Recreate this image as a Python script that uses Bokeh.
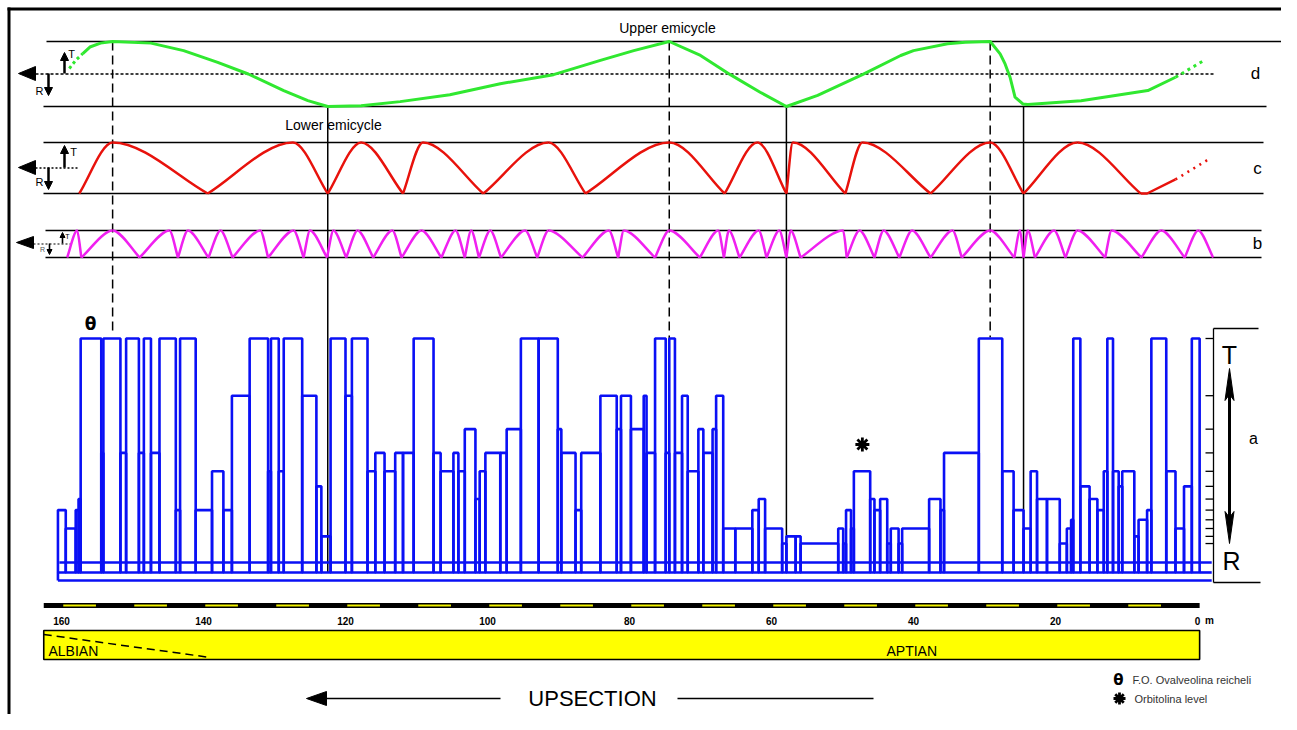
from bokeh.plotting import figure
from bokeh.models import Range1d, LogScale
from bokeh.core.properties import value
from bokeh.embed import file_html
from bokeh.resources import INLINE

# ---------------------------------------------------------------- data
# section scale (metres, 0 m at the right / top of section)
SCALE_TICKS = [160, 140, 120, 100, 80, 60, 40, 20, 0]
SCALE_TICK_LABELS = ["160", "140", "120", "100", "80", "60", "40", "20", "0"]
SCALE_YELLOW = [160, 150, 140, 130, 120, 110, 100, 90, 80, 70, 60, 50, 40, 30, 20, 10]
STAGES = ["ALBIAN", "APTIAN"]

# d : long-term cycle (green), level +1 = T, -1 = R
D_DOT_START_X = [158.9, 158.0, 157.0]
D_DOT_START_Y = [0.17, 0.42, 0.63]
D_X = [157.0, 156.0, 154.5, 152.8, 147.4, 142.8, 138.0, 133.7, 128.7, 125.3,
       122.5, 117.8, 112.3, 105.3, 98.2, 90.7, 84.1, 79.4, 74.4, 70.0,
       65.8, 61.6, 57.9, 53.5, 47.2, 41.8, 40.0, 35.2, 32.7, 29.2,
       27.8, 27.1, 26.4, 25.7, 24.6, 23.9, 16.4, 7.0, 3.1]
D_Y = [0.63, 0.83, 0.95, 1.0, 0.95, 0.72, 0.36, 0.0, -0.51, -0.82,
       -1.0, -0.98, -0.85, -0.64, -0.30, -0.02, 0.42, 0.72, 1.0, 0.57,
       -0.02, -0.56, -1.0, -0.66, -0.02, 0.57, 0.72, 0.93, 0.98, 1.0,
       0.62, 0.31, -0.10, -0.71, -0.92, -0.94, -0.82, -0.51, -0.10]
D_DOT_END_X = [3.1, 1.0, -1.1]
D_DOT_END_Y = [-0.10, 0.17, 0.44]

# c : medium cycles (red) turning points
C_X = [157.5, 152.8, 139.4, 127.4, 122.5, 117.8, 111.9, 109.1, 100.6, 91.4,
       86.2, 74.4, 66.6, 62.0, 57.9, 57.0, 49.6, 47.2, 37.6, 29.2,
       24.5, 16.9, 8.0]
C_Y = [-1, 1, -1, 1, -1, 1, -1, 1, -1, 1,
       -1, 1, -1, 1, -1, 1, -1, 1, -1, 1,
       -1, 1, -1]
C_TAIL_X = [8.0, 7.1, 3.1]
C_TAIL_Y = [-1.0, -1.0, -0.45]
C_DOT_X = [3.1, -1.5]
C_DOT_Y = [-0.45, 0.33]

# b : short cycles (magenta) turning points
B_X = [159.2, 157.8, 157.2, 152.8, 149.0, 144.8, 143.6, 142.2, 139.3, 137.6,
       135.9, 132.0, 130.9, 127.3, 125.9, 125.0, 122.6, 121.7, 119.9, 118.3,
       116.1, 113.4, 112.1, 109.3, 106.5, 104.5, 103.2, 102.3, 101.2, 99.6,
       98.1, 94.7, 93.0, 91.4, 86.6, 82.9, 81.6, 80.8, 76.4, 74.4,
       70.1, 67.5, 66.7, 66.0, 64.5, 61.8, 60.7, 58.9, 57.9, 57.3,
       55.9, 49.9, 49.4, 47.6, 45.5, 44.2, 42.0, 40.2, 37.6, 34.5,
       33.2, 29.2, 25.8, 25.0, 24.5, 23.9, 22.9, 20.2, 18.6, 16.9,
       13.0, 12.1, 7.9, 5.1, 1.8, -0.1, -2.2]
B_Y = [-1, 1, -1, 1, -1, 1, -1, 1, -1, 1,
       -1, 1, -1, 1, -1, 1, -1, 1, -1, 1,
       -1, 1, -1, 1, -1, 1, -1, 1, -1, 1,
       -1, 1, -1, 1, -1, 1, -1, 1, -1, 1,
       -1, 1, -1, 1, -1, 1, -1, 1, -1, 1,
       -1, 1, -1, 1, -1, 1, -1, 1, -1, 1,
       -1, 1, -1, 1, -1, 1, -1, 1, -1, 1,
       -1, 1, -1, 1, -1, 1, -1]

# a : elementary cycles (blue), bed boundaries (m) and facies level (1 = T ... 12 = R)
A_EDGES = [160.5, 159.4, 158.0, 157.6, 157.3, 154.4, 154.1, 151.7, 150.9, 149.1,
           148.4, 147.4, 146.2, 143.9, 143.3, 141.1, 138.8, 137.2, 136.0, 133.5,
           130.9, 130.5, 129.4, 128.7, 126.1, 124.1, 123.4, 122.1, 120.0, 119.1,
           116.9, 115.8, 114.5, 113.0, 111.9, 110.4, 107.6, 106.6, 104.8, 104.1,
           103.2, 101.7, 101.1, 100.3, 98.2, 97.3, 95.3, 92.8, 90.1, 89.6,
           87.6, 86.8, 84.1, 81.8, 81.2, 79.8, 78.0, 77.6, 76.4, 74.9,
           74.4, 73.6, 72.6, 71.8, 70.3, 69.6, 68.3, 67.8, 66.8, 65.1,
           62.7, 61.8, 60.9, 58.5, 57.9, 56.6, 55.9, 50.6, 49.9, 49.5,
           48.8, 48.4, 46.1, 45.5, 44.7, 43.7, 43.2, 42.1, 41.6, 37.8,
           36.2, 35.7, 30.8, 27.5, 25.9, 24.5, 23.5, 22.6, 21.2, 19.4,
           18.4, 17.8, 17.5, 16.5, 15.2, 14.1, 13.2, 12.7, 11.9, 11.1,
           10.6, 8.9, 8.3, 7.1, 6.5, 4.4, 3.1, 1.9, 0.8, -0.3]
A_LEVELS = [8, 10, 8, 7, 1, 4, 1, 4, 1, 4,
            1, 4, 1, 8, 1, 8, 5, 8, 2, 1,
            5, 1, 5, 1, 2, 6, 11, 1, 2, 1,
            5, 4, 5, 4, 4, 1, 4, 5, 4, 5,
            3, 7, 5, 4, 4, 3, 1, 1, 3, 4,
            8, 4, 2, 3, 2, 3, 2, 4, 1, 4,
            1, 4, 2, 5, 3, 4, 3, 2, 10, 10,
            8, 7, 10, 12, 11, 11, 12, 10, 12, 8,
            10, 5, 7, 8, 7, 12, 10, 12, 10, 7,
            8, 4, 1, 5, 8, 10, 5, 7, 7, 12,
            10, 9, 1, 6, 7, 8, 5, 1, 5, 6,
            5, 11, 9, 8, 1, 5, 10, 6, 1]
A_TICKS = [1, 2, 3, 4, 5, 6, 7, 8, 9, 10, 11, 12]
A_BASE = 17.04
A_GUIDES = [15.1, 18.78]

# correlation lines between cycle orders (m)
CORR_DASH_X = [152.8, 74.4, 29.2]
CORR_SOLID_X = [122.5, 57.9, 24.5]

THETA_X = 155.9       # F.O. Ovalveolina reicheli
ORBITOLINA_X = 47.2   # Orbitolina level

# ---------------------------------------------------------------- figure
GREEN = "#30e830"
RED = "#e8120c"
MAGENTA = "#f020f0"
BLUE = "#0a10f5"
FONT = value("Liberation Sans")

W, H = 1281, 714
M0 = 1197 / 7.1                 # metres at left canvas edge
M1 = (1197 - W) / 7.1           # metres at right canvas edge

p = figure(width=W, height=H, output_backend="svg", toolbar_location=None,
           x_range=Range1d(M0, M1), y_range=Range1d(H, 0),
           x_axis_location=None, y_axis_location=None, min_border=0,
           title=None, background_fill_color="white", border_fill_color="white")
p.outline_line_color = None
p.xgrid.grid_line_color = None
p.ygrid.grid_line_color = None
p.extra_x_ranges = {"px": Range1d(0, W)}
p.extra_y_ranges = {"d": Range1d((73.5 - H) / 32.5, 73.5 / 32.5),
                    "c": Range1d((167.5 - H) / 25.5, 167.5 / 25.5),
                    "b": Range1d((243.5 - H) / 13.5, 243.5 / 13.5),
                    "a": Range1d(10 ** ((H - 338) / 190), 10 ** (-338 / 190))}
p.extra_y_scales = {"a": LogScale()}


def txt(x, y, t, size, align="center", bold=False, color="black", xr="px", font=FONT):
    p.text(x=[x], y=[y], text=[t], x_range_name=xr, text_font=font,
           text_font_size=size, text_align=align, text_baseline="middle",
           text_color=color, text_font_style="bold" if bold else "normal")


def arcs(xs, ys, k=0.33, q=0.3):
    out = dict(x0=[], y0=[], x1=[], y1=[], cx0=[], cy0=[], cx1=[], cy1=[])
    for xa, ya, xb, yb in zip(xs[:-1], ys[:-1], xs[1:], ys[1:]):
        dx = xb - xa
        h = yb - ya
        if h < 0:   # crest -> trough
            c0 = (xa + k * dx, ya)
            c1 = (xb - q * dx, yb - q * h)
        else:       # trough -> crest
            c0 = (xa + q * dx, ya + q * h)
            c1 = (xb - k * dx, yb)
        out["x0"].append(xa); out["y0"].append(ya)
        out["x1"].append(xb); out["y1"].append(yb)
        out["cx0"].append(c0[0]); out["cy0"].append(c0[1])
        out["cx1"].append(c1[0]); out["cy1"].append(c1[1])
    return out


def v_arrow(x, y_from, y_to, hl, hw, lw):
    sgn = 1 if y_to > y_from else -1
    p.segment(x0=[x], y0=[y_from], x1=[x], y1=[y_to - sgn * hl * 0.7],
              x_range_name="px", line_color="black", line_width=lw)
    p.patch(x=[x, x - hw / 2, x + hw / 2], y=[y_to, y_to - sgn * hl, y_to - sgn * hl],
            x_range_name="px", fill_color="black", line_color="black")


# outer frame
p.segment(x0=[8.5, 7], y0=[7, 8.5], x1=[8.5, W], y1=[H, 8.5],
          x_range_name="px", line_color="black", line_width=3)

# ---- panel frames
for rng, xa, xb in (("d", [46, 43], [1287, 1266]), ("c", [43, 43], [1263, 1263]),
                    ("b", [45, 45], [1261, 1261])):
    p.segment(x0=xa, x1=xb, y0=[1, -1], y1=[1, -1], x_range_name="px",
              y_range_name=rng, line_color="black", line_width=1.3)
p.segment(x0=[35], x1=[1215], y0=[0], y1=[0], x_range_name="px", y_range_name="d",
          line_color="black", line_width=1.5, line_dash="3 2")
p.segment(x0=[35], x1=[78], y0=[0], y1=[0], x_range_name="px", y_range_name="c",
          line_color="black", line_width=1.3, line_dash="2 2")
p.segment(x0=[33], x1=[70], y0=[0], y1=[0], x_range_name="px", y_range_name="b",
          line_color="black", line_width=1.1, line_dash="2 2")

p.patches(xs=[[18, 35, 35], [18, 35, 35], [16, 33, 33]],
          ys=[[73, 66, 80], [167, 160, 174], [242, 236, 248]],
          x_range_name="px", fill_color="black", line_color="black")
v_arrow(64, 73, 52, 8, 8, 2.5)
v_arrow(48, 73, 95, 8, 8, 2.5)
v_arrow(64, 167, 145, 8, 8, 2.5)
v_arrow(48, 167, 189, 8, 8, 2.5)
v_arrow(62, 243, 232, 5, 5, 1.6)
v_arrow(49, 243, 254, 5, 5, 1.6)
txt(71, 53, "T", "11px")
txt(39, 90, "R", "11px")
txt(73, 151, "T", "11px")
txt(39, 181, "R", "11px")
txt(67, 236, "T", "7px")
txt(42, 249, "R", "7px", color="#555")

txt(1255, 73, "d", "17px")
txt(1257, 168, "c", "17px")
txt(1257, 243, "b", "17px")
txt(667, 27, "Upper emicycle", "14px")
txt(333, 124, "Lower emicycle", "14px")

# ---- correlation lines
p.segment(x0=CORR_DASH_X, x1=CORR_DASH_X, y0=[41] * 3, y1=[333, 338, 337],
          line_color="black", line_width=1.5, line_dash="9 5")
p.segment(x0=CORR_SOLID_X, x1=CORR_SOLID_X, y0=[106] * 3, y1=[572, 548, 572],
          line_color="black", line_width=1.5)

# ---- d (green)
p.line(D_X, D_Y, y_range_name="d", line_color=GREEN, line_width=3, line_join="round")
p.line(D_DOT_START_X, D_DOT_START_Y, y_range_name="d", line_color=GREEN,
       line_width=3, line_dash="3 3")
p.line(D_DOT_END_X, D_DOT_END_Y, y_range_name="d", line_color=GREEN,
       line_width=3, line_dash="3 4")

# ---- c (red)
p.bezier(**arcs(C_X, C_Y), y_range_name="c", line_color=RED, line_width=2.5)
p.line(C_TAIL_X, C_TAIL_Y, y_range_name="c", line_color=RED, line_width=2.5)
p.line(C_DOT_X, C_DOT_Y, y_range_name="c", line_color=RED, line_width=2.6,
       line_dash="2 5")

# ---- b (magenta)
p.bezier(**arcs(B_X, B_Y, k=0.3, q=0.25), y_range_name="b", line_color=MAGENTA,
         line_width=2.5)

# ---- a (blue)
n = len(A_LEVELS)
p.quad(left=A_EDGES[:-1], right=A_EDGES[1:], top=A_LEVELS, bottom=[A_BASE] * n,
       y_range_name="a", fill_color=None, line_color=BLUE, line_width=2.6)
p.segment(x0=[160.3, A_EDGES[-1], A_EDGES[0]], x1=[-2.0, -2.0, -2.0],
          y0=[A_GUIDES[0], A_BASE, A_GUIDES[1]], y1=[A_GUIDES[0], A_BASE, A_GUIDES[1]],
          y_range_name="a", line_color=BLUE, line_width=2.6)
p.segment(x0=[A_EDGES[0]], x1=[A_EDGES[0]], y0=[A_BASE], y1=[A_GUIDES[1]],
          y_range_name="a", line_color=BLUE, line_width=2.6)

# right bracket with level ticks
p.segment(x0=[1213, 1213, 1213], y0=[328, 328, 582], x1=[1213, 1258, 1260],
          y1=[582, 328, 582], x_range_name="px", line_color="black", line_width=1.3)
p.segment(x0=[1205] * len(A_TICKS), x1=[1213] * len(A_TICKS), y0=A_TICKS, y1=A_TICKS,
          x_range_name="px", y_range_name="a", line_color="black", line_width=1.3)
txt(1229, 354, "T", "25px")
txt(1231, 560, "R", "25px")
txt(1253, 438, "a", "16px")
p.segment(x0=[1229], x1=[1229], y0=[390], y1=[522], x_range_name="px",
          line_color="black", line_width=3)
p.patches(xs=[[1229, 1224.5, 1229, 1233.5], [1229, 1224.5, 1229, 1233.5]],
          ys=[[368, 400, 394, 400], [543, 511, 517, 511]],
          x_range_name="px", fill_color="black", line_color="black")

# markers
p.text(x=[THETA_X], y=[323], text=["θ"], text_font=value("DejaVu Sans"),
       text_font_size="17px", text_font_style="bold", text_align="center",
       text_baseline="middle", text_color="black")
p.scatter(x=[ORBITOLINA_X], y=[444], marker="asterisk", size=14, line_width=2.8,
          line_color="black")

# ---- metric scale bar
p.segment(x0=[162.5], x1=[-0.3], y0=[605], y1=[605], line_color="black",
          line_width=5, line_cap="butt")
p.segment(x0=[t - 0.25 for t in SCALE_YELLOW], x1=[t - 4.85 for t in SCALE_YELLOW],
          y0=[605] * len(SCALE_YELLOW), y1=[605] * len(SCALE_YELLOW),
          line_color="#f0f000", line_width=2.2, line_cap="butt")
p.text(x=SCALE_TICKS, y=[620] * len(SCALE_TICKS), text=SCALE_TICK_LABELS,
       text_font=FONT, text_font_size="10px", text_font_style="bold",
       text_align="center", text_baseline="middle", text_color="black")
txt(1209, 620, "m", "10px", bold=True)

# ---- stage box
p.quad(left=[162.5], right=[-0.3], top=[630], bottom=[659], fill_color="#ffff00",
       line_color="black", line_width=1.6)
p.line([162.5, 139.0], [634, 657], line_color="black", line_width=1.5, line_dash="8 5")
txt(48, 650, STAGES[0], "14px", align="left")
txt(886, 650, STAGES[1], "14px", align="left")

# ---- upsection arrow
p.segment(x0=[322, 677], x1=[500, 873], y0=[698, 698], y1=[698, 698],
          x_range_name="px", line_color="black", line_width=1.5)
p.patch(x=[306, 326, 326], y=[698, 691, 705], x_range_name="px",
        fill_color="black", line_color="black")
txt(592, 698, "UPSECTION", "22px")

# ---- legend
p.text(x=[1118], y=[679], text=["θ"], x_range_name="px", text_font=value("DejaVu Sans"),
       text_font_size="15px", text_font_style="bold", text_align="center",
       text_baseline="middle", text_color="black")
txt(1132, 679, "F.O. Ovalveolina reicheli", "11px", align="left", color="#333")
p.scatter(x=[1119], y=[698], x_range_name="px", marker="asterisk", size=12,
          line_width=2.8, line_color="black")
txt(1134, 698, "Orbitolina level", "11px", align="left", color="#333")

open("out.html", "w").write(file_html(p, INLINE))
